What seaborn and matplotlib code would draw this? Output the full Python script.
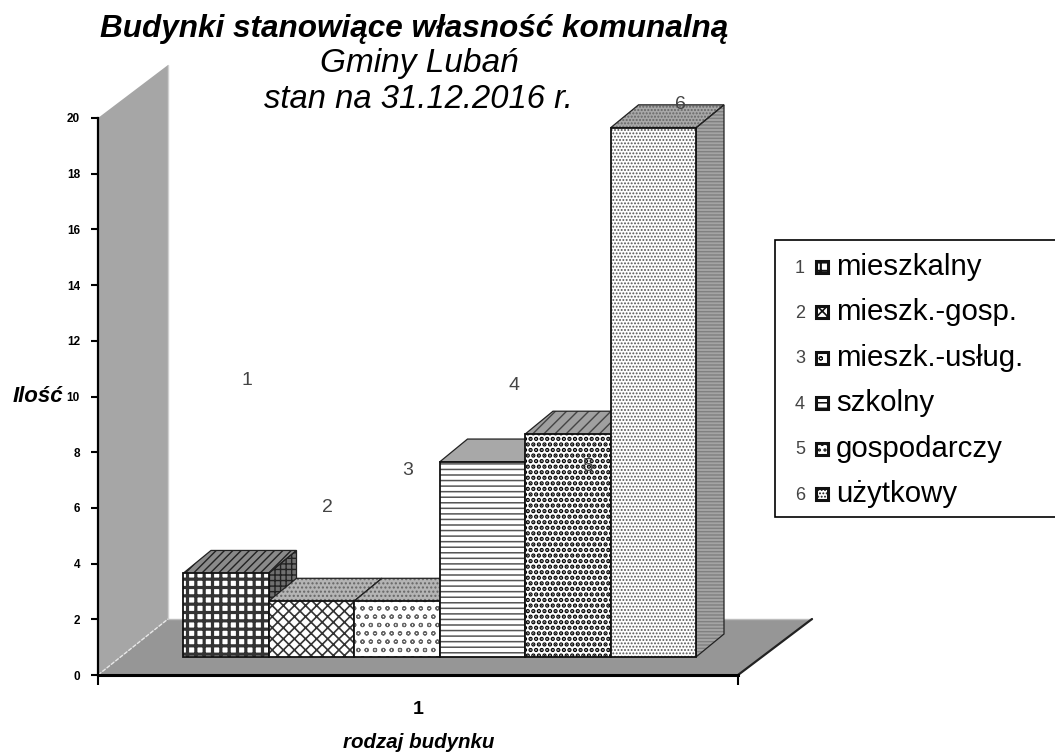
import matplotlib
matplotlib.use("Agg")
import matplotlib.pyplot as plt
from matplotlib.patches import Polygon, Rectangle
import pandas as pd
import seaborn as sns

# ---- data ----
categories = ["mieszkalny", "mieszk.-gosp.", "mieszk.-usług.", "szkolny", "gospodarczy", "użytkowy"]
values = [3, 2, 2, 7, 8, 19]
series_ids = ["1", "2", "3", "4", "5", "6"]
y_ticks = [0, 2, 4, 6, 8, 10, 12, 14, 16, 18, 20]
x_tick_labels = ["1"]
title_lines = ["Budynki stanowiące własność komunalną", "Gminy Lubań", "stan na 31.12.2016 r."]
x_label = "rodzaj budynku"
y_label = "Ilość"

# ---- styles ----
W, H = 1055, 753
hatches = ["++", "xxx", "oo", "---", "...", "....."]
hatch_cols = ["#333333", "#333333", "#666666", "#555555", "#000000", "#555555"]
hatch_lw = [2.3, 1.2, 0.8, 1.1, 2.2, 0.9]
top_hatch = ["////", "....", "....", "", "///", "....."]
top_face = ["#8a8a8a", "#b4b4b4", "#b4b4b4", "#a8a8a8", "#a0a0a0", "#a8a8a8"]
top_hatch_col = ["#222222", "#666666", "#666666", "#666666", "#444444", "#666666"]
side_face = ["#707070", "#909090", "#909090", "#909090", "#909090", "#a4a4a4"]
side_hatch = ["+++", "", "", "", "", "-----"]
side_hatch_col = ["#222222", "#666666", "#666666", "#666666", "#666666", "#808080"]
DEPTH_X, DEPTH_Y = 28 / 85.5, 23 / 27.85   # oblique depth in data units
label_xy = [(247, 380), (327, 507), (408, 470), (514, 385), (588, 466), (680, 104)]

sns.set_theme(style="white")
plt.rcParams["font.family"] = ["Liberation Sans", "DejaVu Sans"]
plt.rcParams["hatch.linewidth"] = 1.0

df = pd.DataFrame({"kategoria": categories, "ilosc": values})


def rect(left, top, right, bottom):
    return [left / W, 1 - bottom / H, (right - left) / W, (bottom - top) / H]


fig = plt.figure(figsize=(W / 100, H / 100), dpi=100, facecolor="white")

# pixel-space layer: chart walls and floor
bg = fig.add_axes([0, 0, 1, 1], zorder=0)
bg.set_xlim(0, W)
bg.set_ylim(H, 0)
bg.axis("off")
bg.add_patch(Polygon([(98, 118), (168, 65), (168, 619), (98, 675)], fc="#a6a6a6", ec="none"))
bg.plot([168, 168], [65, 619], color="#d0d0d0", lw=1)
bg.add_patch(Polygon([(98, 675), (168, 619), (812, 619), (738, 675)], fc="#969696", ec="none"))
bg.plot([168, 812], [619, 619], color="#bdbdbd", lw=1)
bg.plot([738, 812], [675, 619], color="#222222", lw=1.6)
bg.plot([98, 168], [675, 619], color="#e8e8e8", lw=1, ls=(0, (3, 1)))

# value axis
ax = fig.add_axes(rect(98, 118, 738, 675), zorder=1)
ax.patch.set_alpha(0)
ax.set_xlim(0.5, 1.5)
ax.set_ylim(0, 20)
ax.set_yticks(y_ticks)
ax.set_yticklabels([str(t) for t in y_ticks], fontsize=8.5, fontweight="bold", color="black")
ax.set_xticks([1])
ax.set_xticklabels(x_tick_labels, fontsize=14, fontweight="bold", color="black")
ax.tick_params(axis="y", direction="out", length=5, width=1.5, pad=8, left=True, color="black")
ax.set_xticks([0.5, 1.5], minor=True)
ax.tick_params(axis="x", which="minor", direction="out", length=7, width=1.5, bottom=True, color="black")
ax.tick_params(axis="x", which="major", length=0, pad=19, bottom=False)
sns.despine(ax=ax, top=True, right=True)
ax.spines["left"].set_color("black")
ax.spines["left"].set_linewidth(1.6)
ax.spines["bottom"].set_color("black")
ax.spines["bottom"].set_linewidth(2.2)

# bars
bx = fig.add_axes(rect(183, 657 - 20 * 27.85, 696, 657), zorder=2)
bx.patch.set_alpha(0)
sns.barplot(data=df, x="kategoria", y="ilosc", hue="kategoria", dodge=False, width=1.0,
            palette=["white"] * 6, legend=False, ax=bx, saturation=1)
bx.set_xlim(-0.5, 5.5)
bx.set_ylim(0, 20)
bx.axis("off")

for i, bar in enumerate(list(bx.patches)):
    x0, w, h = bar.get_x(), bar.get_width(), bar.get_height()
    base_z = 3 + i * 3
    top = Polygon([(x0, h), (x0 + DEPTH_X, h + DEPTH_Y), (x0 + w + DEPTH_X, h + DEPTH_Y), (x0 + w, h)],
                  fc=top_face[i], ec=top_hatch_col[i], hatch=top_hatch[i], lw=0, clip_on=False, zorder=base_z)
    side = Polygon([(x0 + w, 0), (x0 + w + DEPTH_X, DEPTH_Y), (x0 + w + DEPTH_X, h + DEPTH_Y), (x0 + w, h)],
                   fc=side_face[i], ec=side_hatch_col[i], hatch=side_hatch[i], lw=0, clip_on=False, zorder=base_z)
    bx.add_patch(top)
    bx.add_patch(side)
    for pts in (top.get_xy(), side.get_xy()):
        bx.add_patch(Polygon(pts, fc="none", ec="#222222", lw=0.9, clip_on=False, zorder=base_z + 0.5))
    bar.set_facecolor("white")
    bar.set_edgecolor("none")
    bar.set_linewidth(0)
    bar.set_zorder(base_z + 1)
    with plt.rc_context({"hatch.linewidth": hatch_lw[i]}):
        bx.add_patch(Rectangle((x0, 0), w, h, fc="none", ec=hatch_cols[i], lw=0, hatch=hatches[i],
                               zorder=base_z + 1.5))
    bx.add_patch(Rectangle((x0, 0), w, h, fc="none", ec="#111111", lw=1.3, clip_on=False, zorder=base_z + 2))

# overlay text layer
fg = fig.add_axes([0, 0, 1, 1], zorder=5)
fg.set_xlim(0, W)
fg.set_ylim(H, 0)
fg.axis("off")
fg.text(414, 29, title_lines[0], ha="center", va="center", fontsize=22.7, fontweight="bold", style="italic", color="black")
fg.text(419, 63, title_lines[1], ha="center", va="center", fontsize=24, style="italic", color="black")
fg.text(418, 99, title_lines[2], ha="center", va="center", fontsize=23.6, style="italic", color="black")
fg.text(38, 396, y_label, ha="center", va="center", fontsize=16, fontweight="bold", style="italic", color="black")
fg.text(419, 742, x_label, ha="center", va="center", fontsize=14.8, fontweight="bold", style="italic", color="black")
for s, (px, py) in zip(series_ids, label_xy):
    fg.text(px, py, s, ha="center", va="center", fontsize=14, color="#444444")

# legend box
fg.add_patch(Rectangle((775, 240), 285, 277, fc="white", ec="black", lw=1.2, clip_on=False))
for i, (s, c) in enumerate(zip(series_ids, categories)):
    y = 267 + 45.4 * i
    fg.text(800, y + 1, s, ha="center", va="center", fontsize=13, color="#444444")
    with plt.rc_context({"hatch.linewidth": min(hatch_lw[i], 1.5)}):
        fg.add_patch(Rectangle((816, y - 6), 12, 12, fc="white", ec="#111111", lw=2.2, hatch=hatches[i]))
    fg.text(836, y, c, ha="left", va="center", fontsize=21.2, color="black")

fig.savefig("out.png", dpi=100)
